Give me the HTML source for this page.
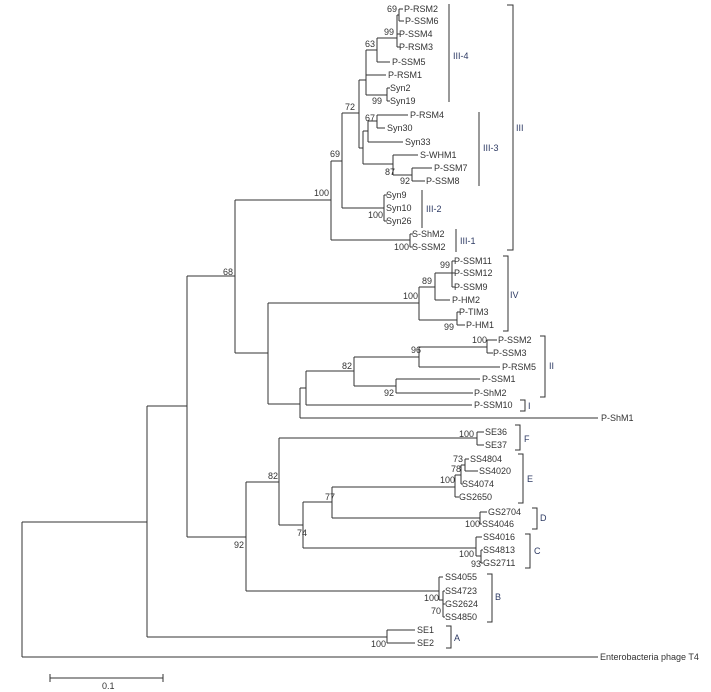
<!DOCTYPE html>
<html><head><meta charset="utf-8"><style>
html,body{margin:0;padding:0;background:#fff;width:711px;height:692px;overflow:hidden}
svg{display:block}
text{font-family:"Liberation Sans",Arial,sans-serif;font-size:9px;fill:#333}
.g{fill:#2d3a63}
</style></head><body>
<svg width="711" height="692" viewBox="0 0 711 692" xmlns="http://www.w3.org/2000/svg">
<g stroke="#333" stroke-width="1" fill="none">
<!-- III-4 -->
<path d="M399 9V21 M399 9H403 M399 21H404 M397 15V47 M397 15H399 M397 34H400 M397 47H400"/>
<path d="M377 38V62 M377 38H397 M377 62H390"/>
<path d="M366 50V95 M366 50H377 M366 75H386 M387 88V101 M387 88H390 M387 101H390 M366 95H387"/>
<!-- III-3 -->
<path d="M377 115V128 M377 115H408 M377 128H385 M368 121V142 M368 121H377 M368 142H403"/>
<path d="M412 168V181 M412 168H432 M412 181H425 M393 155V175 M393 155H418 M393 175H412"/>
<path d="M363 131V164 M363 131H368 M363 164H393"/>
<path d="M359 80V148 M359 80H366 M359 148H363"/>
<!-- III-2 -->
<path d="M384 195V221 M384 195H387 M384 221H387 M342 113V208 M342 113H359 M342 208H384"/>
<!-- III-1 -->
<path d="M410 234V247 M410 234H413 M410 247H413 M331 161V240 M331 161H342 M331 240H410"/>
<path d="M235 200H331 M235 200V353"/>
<!-- IV -->
<path d="M452 261V287 M452 261H455 M452 273H455 M452 287H455 M435 273V300 M435 273H452 M435 300H450"/>
<path d="M457 312V325 M457 312H460 M457 325H465 M419 287V320 M419 287H435 M419 320H457 M268 303H419"/>
<!-- II -->
<path d="M487 340V353 M487 340H497 M487 353H493 M419 347V367 M419 347H487 M419 367H500"/>
<path d="M396 379V393 M396 379H480 M396 393H473 M354 357V386 M354 357H419 M354 386H396"/>
<path d="M306 371V405 M306 371H354 M306 405H472 M300 388V418 M300 388H306 M300 418H598"/>
<path d="M268 303V404 M268 404H300 M235 353H268"/>
<path d="M187 276V537 M187 276H235"/>
<!-- F -->
<path d="M477 432V445 M477 432H484 M477 445H484"/>
<!-- E -->
<path d="M465 459V471 M465 459H469 M465 471H478 M461 465V484 M461 465H465 M461 484H463 M455 475V497 M455 475H461 M455 497H459"/>
<path d="M332 487H455 M480 512V524 M480 512H487 M480 524H482 M332 518H480 M332 487V518"/>
<!-- C -->
<path d="M476 537V556 M476 537H482 M476 556H481 M481 550V563 M481 550H483 M481 563H483 M303 548H476 M303 502V548 M303 502H332"/>
<path d="M279 438V525 M279 438H477 M279 525H303"/>
<!-- B -->
<path d="M439 577V600 M439 577H443 M439 600H443 M443 591V617 M443 591H445 M443 604H445 M443 617H445 M246 591H439"/>
<path d="M246 482V591 M246 482H279 M187 537H246 M147 406H187 M147 406V637"/>
<path d="M387 630V643 M387 630H415 M387 643H415 M147 637H387"/>
<path d="M22 522H147 M22 522V657 M22 657H598"/>
<path d="M50 678H163 M50 674V682 M163 674V682"/>
<!-- brackets -->
<path d="M449 4V102 M479 112V186 M422 190V228 M456 229V252"/>
<path d="M507 5H513V250H507"/>
<path d="M503 256H508V331H503"/>
<path d="M540 336H545V397H540"/>
<path d="M520 400H525V411H520"/>
<path d="M515 425H520V450H515"/>
<path d="M518 454H523V503H518"/>
<path d="M532 508H537V529H532"/>
<path d="M525 534H530V568H525"/>
<path d="M487 574H492V622H487"/>
<path d="M446 626H451V648H446"/>
</g>
<g>
<text x="404" y="12">P-RSM2</text><text x="405" y="24">P-SSM6</text>
<text x="399" y="37">P-SSM4</text><text x="399" y="50">P-RSM3</text>
<text x="392" y="65">P-SSM5</text><text x="388" y="78">P-RSM1</text>
<text x="390" y="91">Syn2</text><text x="390" y="104">Syn19</text>
<text x="410" y="118">P-RSM4</text><text x="387" y="131">Syn30</text>
<text x="405" y="145">Syn33</text><text x="420" y="158">S-WHM1</text>
<text x="434" y="171">P-SSM7</text><text x="426" y="184">P-SSM8</text>
<text x="386" y="198">Syn9</text><text x="386" y="211">Syn10</text><text x="386" y="224">Syn26</text>
<text x="412" y="237">S-ShM2</text><text x="412" y="250">S-SSM2</text>
<text x="454" y="264">P-SSM11</text><text x="454" y="276">P-SSM12</text><text x="454" y="290">P-SSM9</text>
<text x="452" y="303">P-HM2</text><text x="459" y="315">P-TIM3</text><text x="466" y="328">P-HM1</text>
<text x="498" y="343">P-SSM2</text><text x="493" y="356">P-SSM3</text><text x="502" y="370">P-RSM5</text>
<text x="482" y="382">P-SSM1</text><text x="474" y="396">P-ShM2</text><text x="474" y="408">P-SSM10</text>
<text x="601" y="421">P-ShM1</text>
<text x="485" y="435">SE36</text><text x="485" y="448">SE37</text>
<text x="470" y="462">SS4804</text><text x="479" y="474">SS4020</text><text x="462" y="487">SS4074</text><text x="459" y="500">GS2650</text>
<text x="488" y="515">GS2704</text><text x="482" y="527">SS4046</text>
<text x="483" y="540">SS4016</text><text x="483" y="553">SS4813</text><text x="483" y="566">GS2711</text>
<text x="445" y="580">SS4055</text><text x="445" y="594">SS4723</text><text x="445" y="607">GS2624</text><text x="445" y="620">SS4850</text>
<text x="417" y="633">SE1</text><text x="417" y="646">SE2</text>
<text x="600" y="660">Enterobacteria phage T4</text>
<text x="102" y="689">0.1</text>
<!-- bootstrap -->
<text x="387" y="12">69</text><text x="384" y="35">99</text><text x="365" y="47">63</text><text x="372" y="104">99</text>
<text x="345" y="110">72</text><text x="365" y="121">67</text><text x="385" y="175">87</text><text x="400" y="184">92</text>
<text x="368" y="218">100</text><text x="330" y="157">69</text><text x="314" y="196">100</text><text x="394" y="250">100</text>
<text x="223" y="275">68</text><text x="440" y="268">99</text><text x="422" y="284">89</text><text x="403" y="299">100</text>
<text x="444" y="330">99</text><text x="472" y="343">100</text><text x="411" y="353">96</text><text x="342" y="369">82</text>
<text x="384" y="396">92</text>
<text x="459" y="437">100</text><text x="453" y="462">73</text><text x="451" y="472">78</text><text x="440" y="483">100</text>
<text x="325" y="500">77</text><text x="465" y="527">100</text><text x="268" y="479">82</text><text x="297" y="536">74</text>
<text x="459" y="557">100</text><text x="471" y="567">93</text><text x="234" y="548">92</text>
<text x="424" y="601">100</text><text x="431" y="614">70</text><text x="371" y="647">100</text>
<!-- groups -->
<text class="g" x="453" y="59">III-4</text><text class="g" x="483" y="151">III-3</text>
<text class="g" x="426" y="212">III-2</text><text class="g" x="460" y="244">III-1</text>
<text class="g" x="516" y="131">III</text><text class="g" x="510" y="298">IV</text>
<text class="g" x="549" y="369">II</text><text class="g" x="528" y="409">I</text>
<text class="g" x="524" y="442">F</text><text class="g" x="527" y="482">E</text>
<text class="g" x="540" y="521">D</text><text class="g" x="534" y="554">C</text>
<text class="g" x="495" y="600">B</text><text class="g" x="454" y="641">A</text>
</g>
</svg>
</body></html>
